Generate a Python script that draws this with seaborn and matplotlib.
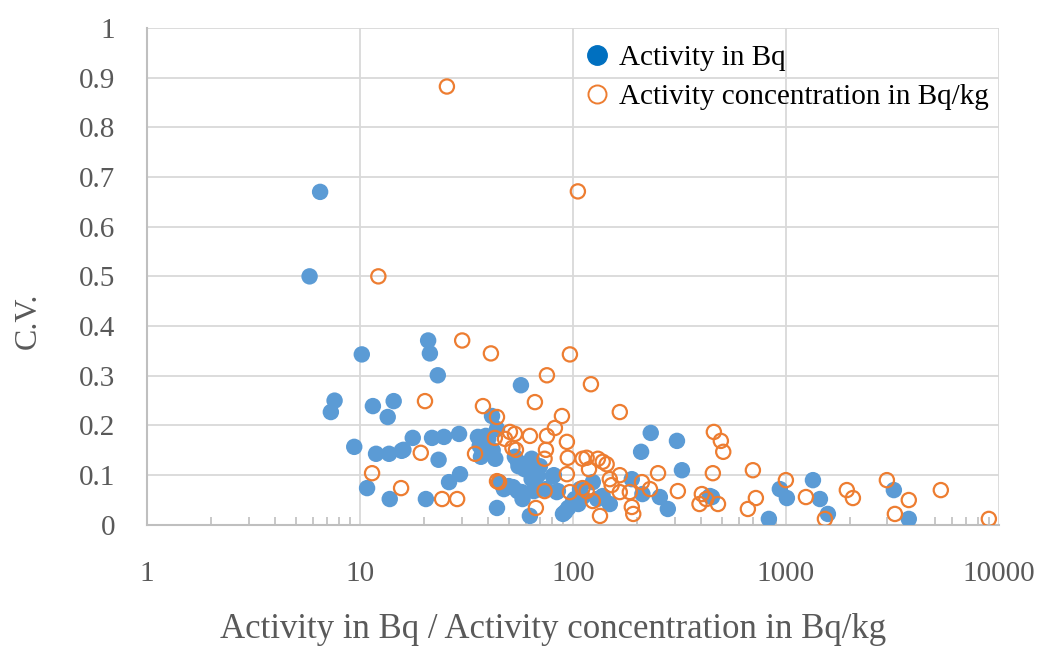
import matplotlib
matplotlib.use("Agg")
import matplotlib.pyplot as plt
import seaborn as sns
import pandas as pd
import numpy as np
from matplotlib.lines import Line2D
from matplotlib.ticker import LogLocator, NullFormatter

# ---- data ----
bq_x = [5.8, 6.5, 10.2, 7.6, 7.3, 9.4, 10.8, 11.5, 11.9, 13.5, 13.7, 14.4, 13.8,
        15.7, 16.0, 17.7, 20.4, 20.9, 21.3, 21.8, 23.2, 23.4, 24.8, 26.2, 29.2,
        29.5, 35.8, 36.5, 37.0, 39.0, 40.0, 42.0, 41.7, 43.2, 44.0, 44.0, 45.0,
        47.4, 57.0, 52.3, 53.4, 55.0, 55.5, 58.0, 59.3, 62.8, 64.0, 65.5, 68.5,
        66.0, 74.7, 81.4, 85.0, 89.8, 95.0, 102, 111, 106, 55.2, 70, 80.5, 50,
        57.5, 64, 70, 84, 92, 108, 124, 130, 100, 232, 308, 209, 325, 189, 212,
        256, 279, 138, 149, 440, 450, 832, 937, 1011, 1340, 1445, 1575, 3214, 3777]
bq_cv = [0.50, 0.67, 0.343, 0.25, 0.227, 0.157, 0.074, 0.239, 0.143, 0.217, 0.143,
         0.249, 0.052, 0.149, 0.151, 0.175, 0.052, 0.371, 0.345, 0.175, 0.301,
         0.131, 0.177, 0.086, 0.183, 0.102, 0.177, 0.159, 0.137, 0.179, 0.173,
         0.150, 0.219, 0.133, 0.193, 0.034, 0.086, 0.072, 0.281, 0.076, 0.137,
         0.068, 0.118, 0.052, 0.112, 0.018, 0.133, 0.068, 0.100, 0.116, 0.072,
         0.100, 0.068, 0.022, 0.034, 0.052, 0.056, 0.042, 0.127, 0.118, 0.098,
         0.078, 0.066, 0.092, 0.072, 0.066, 0.026, 0.072, 0.086, 0.052, 0.046,
         0.185, 0.169, 0.147, 0.110, 0.092, 0.062, 0.056, 0.032, 0.058, 0.042,
         0.058, 0.056, 0.012, 0.072, 0.054, 0.090, 0.052, 0.022, 0.070, 0.012]

conc_x = [25.6, 105.5, 12.2, 30.2, 41.2, 96.8, 75.5, 121.5, 20.2, 37.8, 44, 43,
          19.3, 34.7, 15.6, 24.3, 28.6, 44, 11.4, 66.3, 88.8, 82.3, 50.6, 53.4,
          48, 62.8, 75.5, 93.7, 52, 54, 74.7, 73.6, 94.6, 111, 116, 131, 138, 119,
          93.7, 45, 73.6, 96.8, 111, 116, 124, 67, 134, 166, 459, 495, 508, 144,
          166, 251, 454, 149, 152, 211, 230, 166, 185, 311, 403, 393, 423, 189,
          192, 700, 1000, 723, 663, 480, 1242, 1525, 1933, 2064, 2980, 3250, 3777,
          5340, 8975]
conc_cv = [0.882, 0.671, 0.50, 0.371, 0.345, 0.343, 0.301, 0.283, 0.249, 0.239,
           0.217, 0.175, 0.145, 0.143, 0.074, 0.052, 0.052, 0.088, 0.104, 0.247,
           0.219, 0.195, 0.187, 0.183, 0.173, 0.179, 0.179, 0.167, 0.155, 0.151,
           0.151, 0.133, 0.135, 0.133, 0.135, 0.133, 0.127, 0.112, 0.102, 0.086,
           0.068, 0.066, 0.074, 0.068, 0.048, 0.034, 0.018, 0.227, 0.187, 0.169,
           0.147, 0.122, 0.100, 0.104, 0.104, 0.092, 0.080, 0.086, 0.072, 0.066,
           0.066, 0.068, 0.062, 0.042, 0.052, 0.036, 0.022, 0.110, 0.090, 0.054,
           0.032, 0.042, 0.056, 0.012, 0.070, 0.054, 0.090, 0.022, 0.050, 0.070,
           0.012]

series_names = ["Activity in Bq", "Activity concentration in Bq/kg"]
y_ticks = [0, 0.1, 0.2, 0.3, 0.4, 0.5, 0.6, 0.7, 0.8, 0.9, 1]
y_tick_labels = ["0", "0.1", "0.2", "0.3", "0.4", "0.5", "0.6", "0.7", "0.8", "0.9", "1"]
x_ticks = [1, 10, 100, 1000, 10000]
x_tick_labels = ["1", "10", "100", "1000", "10000"]

BLUE = "#5B9BD5"
ORANGE = "#ED7D31"
GRID = "#D9D9D9"
AXIS = "#BFBFBF"
TXT = "#595959"

sns.set_theme(style="white")
plt.rcParams["font.family"] = ["Liberation Serif", "DejaVu Serif"]

df_b = pd.DataFrame({"x": bq_x, "cv": bq_cv})
df_c = pd.DataFrame({"x": conc_x, "cv": conc_cv})

fig = plt.figure(figsize=(10.47, 6.48), dpi=100)
ax = fig.add_axes([0.1404, 0.19, 0.8136, 0.767])

ax.set_xscale("log")
ax.set_xlim(1, 10000)
ax.set_ylim(0, 1)

# grid
for xv in x_ticks[1:]:
    ax.axvline(xv, color=GRID, lw=1.3, zorder=0)
for yv in y_ticks[1:]:
    ax.axhline(yv, color=GRID, lw=1.3, zorder=0)

sns.scatterplot(data=df_b, x="x", y="cv", ax=ax, color=BLUE, s=140,
                edgecolor="none", linewidth=0, zorder=3, legend=False)
sns.scatterplot(data=df_c, x="x", y="cv", ax=ax, facecolor="none",
                edgecolor=ORANGE, s=105, linewidth=1.6, zorder=4, legend=False)

ax.set_xticks(x_ticks)
ax.set_xticklabels(x_tick_labels)
ax.xaxis.set_minor_locator(LogLocator(base=10, subs=np.arange(2, 10), numticks=20))
ax.xaxis.set_minor_formatter(NullFormatter())
ax.set_yticks(y_ticks)
ax.set_yticklabels(y_tick_labels)

ax.tick_params(axis="x", which="major", length=0, pad=26, labelsize=21, labelcolor=TXT)
ax.tick_params(axis="x", which="minor", direction="in", length=6, width=1.2,
               color=AXIS, bottom=True)
ax.tick_params(axis="y", which="major", length=0, pad=23, labelsize=21, labelcolor=TXT)

for side in ["top", "right"]:
    ax.spines[side].set_visible(False)
for side in ["left", "bottom"]:
    ax.spines[side].set_color(AXIS)
    ax.spines[side].set_linewidth(1.5)

ax.set_xlabel("Activity in Bq / Activity concentration in Bq/kg",
              fontsize=25, color=TXT)
ax.xaxis.set_label_coords(0.477, -0.178)
ax.set_ylabel("C.V.", fontsize=23, color=TXT)
ax.yaxis.set_label_coords(-0.122, 0.41)

handles = [
    Line2D([], [], marker="o", linestyle="none", markersize=14,
           markerfacecolor="#0070C0", markeredgecolor="#0070C0"),
    Line2D([], [], marker="o", linestyle="none", markersize=13,
           markerfacecolor="none", markeredgecolor=ORANGE, markeredgewidth=1.4),
]
leg = ax.legend(handles, series_names, loc="upper left",
                bbox_to_anchor=(0.498, 0.99), frameon=False, fontsize=21,
                handletextpad=0.25, labelspacing=0.45, borderaxespad=0,
                handlelength=1.0)
for t in leg.get_texts():
    t.set_color("black")

fig.savefig("out.png", dpi=100)
